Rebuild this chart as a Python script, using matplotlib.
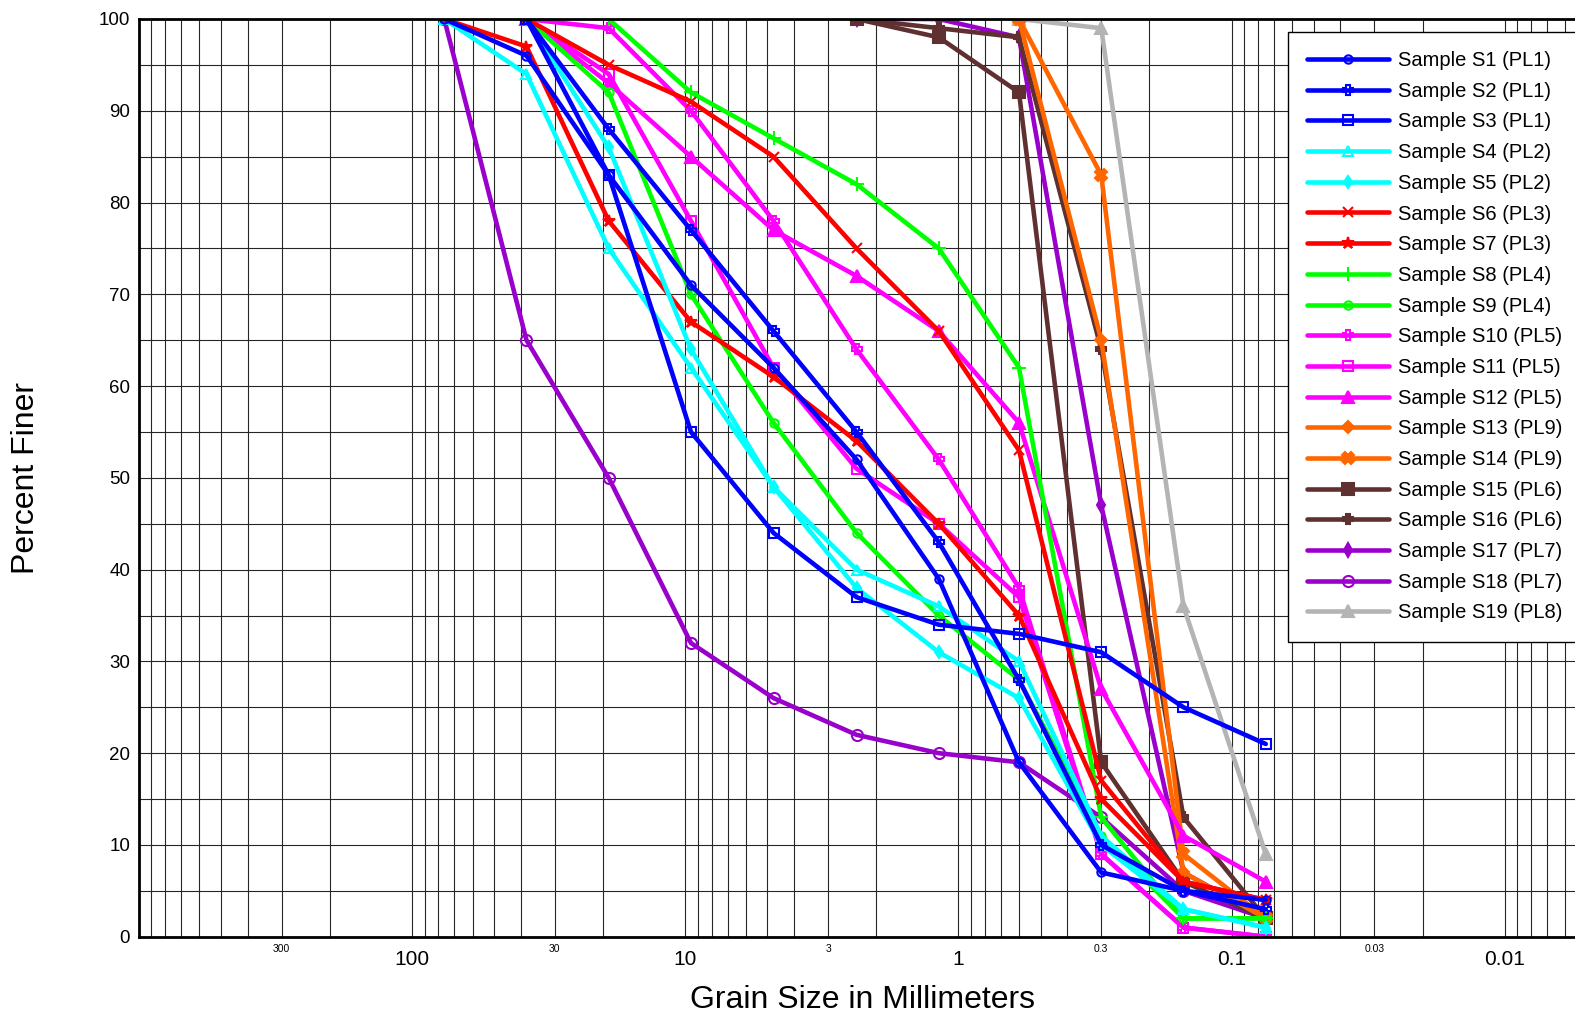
import numpy as np
import matplotlib
matplotlib.use('Agg')
import matplotlib.pyplot as plt
from matplotlib.ticker import FixedLocator, FuncFormatter, MultipleLocator

plt.rcParams['font.family'] = ['Liberation Sans', 'DejaVu Sans']

nan = np.nan

# Sieve openings (mm)
sieve_mm = [76.2, 38.1, 19.05, 9.525, 4.75, 2.36, 1.18, 0.6, 0.3, 0.15, 0.075]

# Percent finer for each sample
s1 = [100, 96, 83, 71, 62, 52, 39, 19, 7, 5, 4]
s2 = [nan, 100, 88, 77, 66, 55, 43, 28, 10, 5, 3]
s3 = [nan, 100, 83, 55, 44, 37, 34, 33, 31, 25, 21]
s4 = [100, 94, 75, 62, 49, 40, 36, 30, 11, 3, 1]
s5 = [nan, 100, 86, 64, 49, 38, 31, 26, 10, 3, 1]
s6 = [nan, 100, 95, 91, 85, 75, 66, 53, 17, 6, 4]
s7 = [100, 97, 78, 67, 61, 54, 45, 35, 15, 6, 4]
s8 = [nan, nan, 100, 92, 87, 82, 75, 62, 13, 2, 2]
s9 = [nan, 100, 92, 70, 56, 44, 35, 28, 11, 2, 2]
s10 = [nan, 100, 99, 90, 78, 64, 52, 38, 9, 1, 0]
s11 = [nan, 100, 94, 78, 62, 51, 45, 37, 9, 1, 0]
s12 = [nan, 100, 93, 85, 77, 72, 66, 56, 27, 11, 6]
s13 = [nan, nan, nan, nan, nan, nan, nan, 100, 65, 7, 2]
s14 = [nan, nan, nan, nan, nan, nan, nan, 100, 83, 9, 2]
s15 = [nan, nan, nan, nan, nan, 100, 98, 92, 19, 6, 2]
s16 = [nan, nan, nan, nan, nan, 100, 99, 98, 64, 13, 2]
s17 = [nan, nan, nan, nan, nan, 100, 100, 98, 47, 7, 2]
s18 = [100, 65, 50, 32, 26, 22, 20, 19, 13, 5, 2]
s19 = [nan, nan, nan, nan, nan, nan, nan, 100, 99, 36, 9]

series = [s1, s2, s3, s4, s5, s6, s7, s8, s9, s10,
          s11, s12, s13, s14, s15, s16, s17, s18, s19]
labels = ['Sample S1 (PL1)', 'Sample S2 (PL1)', 'Sample S3 (PL1)',
          'Sample S4 (PL2)', 'Sample S5 (PL2)', 'Sample S6 (PL3)',
          'Sample S7 (PL3)', 'Sample S8 (PL4)', 'Sample S9 (PL4)',
          'Sample S10 (PL5)', 'Sample S11 (PL5)', 'Sample S12 (PL5)',
          'Sample S13 (PL9)', 'Sample S14 (PL9)', 'Sample S15 (PL6)',
          'Sample S16 (PL6)', 'Sample S17 (PL7)', 'Sample S18 (PL7)',
          'Sample S19 (PL8)']

# Axis tick labels
major_x_vals = [100, 10, 1, 0.1, 0.01]
major_x_labels = ['100', '10', '1', '0.1', '0.01']
minor_x_labelled = [300, 30, 3, 0.3, 0.03]
y_ticks = [0, 10, 20, 30, 40, 50, 60, 70, 80, 90, 100]

# Styles
BLUE, CYAN, RED, GREEN = '#0000FF', '#00FFFF', '#FF0000', '#00FF00'
MAG, ORANGE, BROWN, PURPLE, GREY = '#FF00FF', '#FF6600', '#603030', '#9900CC', '#B4B4B4'
colors = [BLUE, BLUE, BLUE, CYAN, CYAN, RED, RED, GREEN, GREEN, MAG, MAG, MAG,
          ORANGE, ORANGE, BROWN, BROWN, PURPLE, PURPLE, GREY]
markers = ['o', 'P', 's', '^', 'd', 'x', '*', '+', 'o', 'P', 's', '^',
           'D', 'X', 's', 'P', 'd', 'o', '^']
hollow = [True, True, True, True, False, False, False, False, True, True, True, False,
          False, False, False, False, False, True, False]
msizes = [6, 7, 7, 7, 6, 7, 9, 10, 6, 7, 7, 8, 6, 8, 9, 7, 7, 8, 8]

fig = plt.figure(figsize=(15.75, 10.14), dpi=100)
W, H = 1575.0, 1014.0
x_left_px, decade_px = 138.8, 273.2
ax = fig.add_axes([x_left_px / W, (H - 936.7) / H, 6 * decade_px / W, (936.7 - 19.0) / H])
ax.set_xscale('log')

n = len(series)
for i in range(n):
    c = colors[i]
    ax.plot(sieve_mm, series[i], color=c, lw=3.3, marker=markers[i], ms=msizes[i],
            mfc='none' if hollow[i] else c, mec=c, mew=1.5,
            solid_capstyle='round', solid_joinstyle='round',
            label=labels[i], zorder=10 + (n - i))

ax.set_xlim(1000, 0.001)
ax.set_ylim(0, 100)

major_all = [1000, 100, 10, 1, 0.1, 0.01, 0.001]
ax.xaxis.set_major_locator(FixedLocator(major_all))
lab_map = dict(zip(major_x_vals, major_x_labels))
ax.xaxis.set_major_formatter(FuncFormatter(
    lambda v, p: next((lab_map[k] for k in lab_map if abs(np.log10(v) - np.log10(k)) < 1e-6), '')))
minor_vals = [m * 10.0 ** e for e in range(-3, 3) for m in range(2, 10)]
ax.xaxis.set_minor_locator(FixedLocator(minor_vals))
ax.xaxis.set_minor_formatter(FuncFormatter(
    lambda v, p: next(('%g' % k for k in minor_x_labelled if abs(np.log10(v) - np.log10(k)) < 1e-6), '')))

ax.yaxis.set_major_locator(FixedLocator(y_ticks))
ax.yaxis.set_minor_locator(MultipleLocator(5))

ax.grid(which='both', axis='both', color='#262626', lw=0.8, zorder=1)
ax.set_axisbelow(True)

ax.tick_params(axis='x', which='major', length=0, pad=9.4, labelsize=15)
ax.tick_params(axis='x', which='minor', length=0, pad=5.3, labelsize=7.5)
ax.tick_params(axis='y', which='major', length=0, pad=6.3, labelsize=13.5)
ax.tick_params(axis='y', which='minor', length=0)

for side in ['left', 'bottom', 'top']:
    ax.spines[side].set_linewidth(2.0)
    ax.spines[side].set_color('black')
    ax.spines[side].set_zorder(50)

ax.set_xlabel('Grain Size in Millimeters', fontsize=23, va='center')
ax.xaxis.set_label_coords((862 - x_left_px) / (6 * decade_px), -(999.5 - 936.7) / (936.7 - 19.0))
ax.set_ylabel('Percent Finer', fontsize=23, va='center')
ax.yaxis.set_label_coords((26 - x_left_px) / (6 * decade_px), (936.7 - 478) / (936.7 - 19.0))

leg = ax.legend(loc='upper left', bbox_to_anchor=(1288 / W, 1 - 32 / H),
                bbox_transform=fig.transFigure, borderaxespad=0,
                fontsize=14.5, frameon=True, fancybox=False, framealpha=1,
                edgecolor='black', borderpad=0.95, labelspacing=0.58,
                handlelength=4.05, handletextpad=0.48, numpoints=1)
leg.get_frame().set_linewidth(1.0)
leg.set_zorder(100)

fig.savefig('out.png', dpi=100)
